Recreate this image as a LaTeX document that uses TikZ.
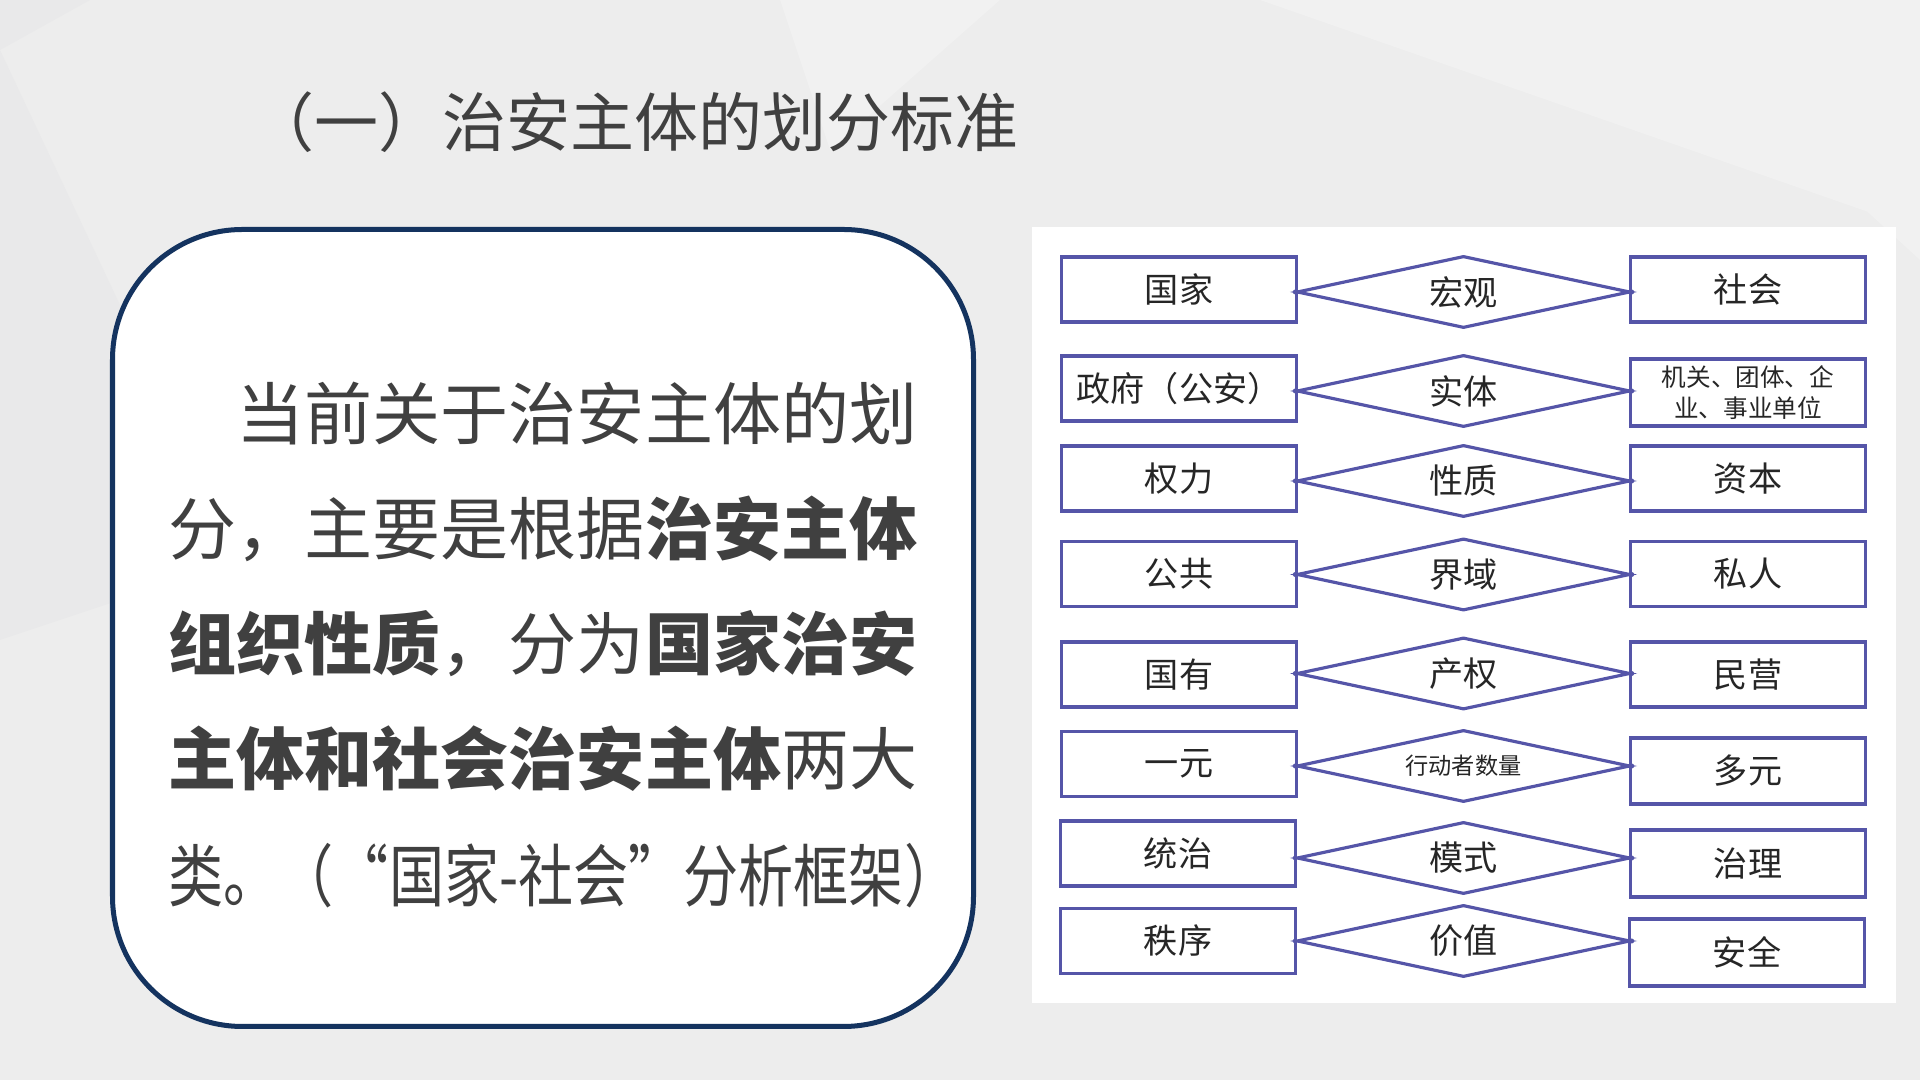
\documentclass[tikz,border=0pt]{standalone}
\usepackage{fontspec}
\usepackage{graphicx}
\setmainfont{Noto Sans CJK SC}
\usetikzlibrary{shapes.geometric}

\definecolor{hgrund}{HTML}{EDEDED}
\definecolor{hell}{HTML}{F1F1F1}
\definecolor{dunkel}{HTML}{E9E9EA}
\definecolor{marine}{HTML}{14335F}
\definecolor{rahmen}{HTML}{5555A8}
\definecolor{schrift}{HTML}{404040}
\definecolor{kastentext}{HTML}{262626}

\begin{document}
\begin{tikzpicture}[x=0.01cm,y=-0.01cm,
    kasten/.style={draw=rahmen,line width=0.9pt,minimum width=2.35cm,minimum height=0.65cm,inner sep=0pt,
      text=kastentext,font=\fontsize{9.7}{11}\selectfont},
    raute/.style={diamond,draw=rahmen,line width=0.9pt,aspect=4.6,minimum width=3.33cm,minimum height=0.72cm,
      inner sep=0pt,text=kastentext,font=\fontsize{9.7}{11}\selectfont},
    zeile/.style={anchor=west,inner sep=0pt,text=schrift,font=\fontsize{19.35}{23}\selectfont}]
\useasboundingbox (0,0) rectangle (1920,1080);

% Hintergrund
\fill[hgrund] (0,0) rectangle (1920,1080);
\fill[dunkel] (0,0) -- (90,0) -- (0,50) -- cycle;
\fill[hell] (780,0) -- (1000,0) -- (830,150) -- cycle;
\fill[hell] (1260,0) -- (1920,0) -- (1920,230) -- cycle;
\fill[dunkel] (0,50) -- (240,560) -- (0,640) -- cycle;
\fill[hell] (1800,150) -- (1920,110) -- (1920,260) -- cycle;

% Titel
\node[anchor=west,inner sep=0pt,text=schrift,font=\fontsize{18.2}{22}\selectfont] (titel) at (250,122) {（一）治安主体的划分标准};

% Textkasten
\draw[marine,line width=0.05cm,fill=white,rounded corners=1.3cm] (112.5,229.5) rectangle (973.5,1026.5);
\node[zeile] (zeile1) at (168,414) {\hspace*{1em}当前关于治安主体的划};
\node[zeile] (zeile2) at (168,529) {分，主要是根据\textbf{治安主体}};
\node[zeile] (zeile3) at (168,644) {\textbf{组织性质}，分为\textbf{国家治安}};
\node[zeile] (zeile4) at (168,759) {\textbf{主体和社会治安主体}两大};
\node[zeile] (zeile5) at (168,876) {\resizebox{7.9cm}{\height}{类。（“国家-社会”分析框架）}};

% Schema
\fill[white] (1032,227) rectangle (1896,1003);

\node[kasten] (l1) at (1179,289.5) {国家};
\node[kasten] (l2) at (1179,388.5) {政府（公安）};
\node[kasten] (l3) at (1179,478.5) {权力};
\node[kasten] (l4) at (1179,574) {公共};
\node[kasten] (l5) at (1179,674.5) {国有};
\node[kasten] (l6) at (1179,764) {一元};
\node[kasten] (l7) at (1178,853.5) {统治};
\node[kasten] (l8) at (1178,941) {秩序};

\node[raute] (d1) at (1463.5,292) {宏观};
\node[raute] (d2) at (1463.5,391) {实体};
\node[raute] (d3) at (1463.5,481) {性质};
\node[raute] (d4) at (1463.5,574.5) {界域};
\node[raute] (d5) at (1463.5,673.5) {产权};
\node[raute,font=\fontsize{6.6}{8}\selectfont] (d6) at (1463.5,766) {行动者数量};
\node[raute] (d7) at (1463.5,858) {模式};
\node[raute] (d8) at (1463.5,941) {价值};

\node[kasten] (r1) at (1748,289.5) {社会};
\node[kasten,minimum height=0.67cm,align=center,font=\fontsize{7}{8.8}\selectfont] (r2) at (1748,392.5) {机关、团体、企\\业、事业单位};
\node[kasten] (r3) at (1748,478.5) {资本};
\node[kasten] (r4) at (1748,574) {私人};
\node[kasten] (r5) at (1748,674.5) {民营};
\node[kasten,minimum height=0.66cm] (r6) at (1748,771) {多元};
\node[kasten,minimum height=0.67cm] (r7) at (1748,863.5) {治理};
\node[kasten,minimum height=0.67cm] (r8) at (1747,952.5) {安全};

% Verbindungspunkte
\foreach \i in {1,...,8} {
    \fill[rahmen] (d\i.west) circle (0.025cm);
    \fill[rahmen] (d\i.east) circle (0.025cm);
}
\end{tikzpicture}
\end{document}
